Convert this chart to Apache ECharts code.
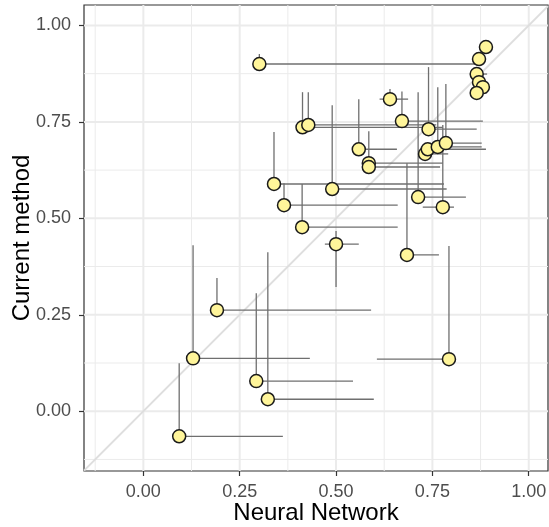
<!DOCTYPE html>
<html><head><meta charset="utf-8">
<script src="https://cdn.jsdelivr.net/npm/echarts@6/dist/echarts.min.js"></script>
<style>html,body{margin:0;padding:0;background:#fff}#c{width:549px;height:527px}</style>
</head><body><div id="c"></div>
<script>
// Neural Network (x) vs Current method (y) with one/two-sided ranges
const nn    = [0.889,0.301,0.871,0.865,0.871,0.881,0.865,0.640,0.671,0.740,0.413,0.428,0.559,0.585,0.585,0.731,0.738,0.764,0.785,0.684,0.777,0.713,0.339,0.490,0.365,0.412,0.500,0.191,0.129,0.793,0.293,0.323,0.093];
const cur   = [0.944,0.900,0.913,0.874,0.853,0.840,0.825,0.809,0.752,0.731,0.736,0.742,0.679,0.643,0.633,0.667,0.679,0.685,0.695,0.405,0.529,0.555,0.589,0.576,0.534,0.477,0.433,0.262,0.137,0.135,0.078,0.031,-0.065];
const nnLo  = [0.875,0.301,0.871,0.865,0.871,0.881,0.865,0.613,0.671,0.740,0.413,0.428,0.559,0.585,0.585,0.731,0.738,0.764,0.785,0.684,0.725,0.713,0.339,0.490,0.365,0.412,0.471,0.191,0.129,0.606,0.293,0.323,0.093];
const nnHi  = [0.905,0.861,0.871,0.892,0.871,0.881,0.892,0.687,0.881,0.865,0.777,0.760,0.658,0.777,0.770,0.791,0.889,0.878,0.878,0.767,0.806,0.837,0.780,0.787,0.660,0.660,0.559,0.591,0.432,0.793,0.544,0.598,0.362];
const curLo = [0.944,0.900,0.913,0.874,0.853,0.840,0.825,0.809,0.752,0.731,0.736,0.742,0.679,0.643,0.633,0.667,0.679,0.685,0.695,0.405,0.529,0.555,0.589,0.576,0.534,0.477,0.322,0.262,0.137,0.135,0.078,0.031,-0.065];
const curHi = [0.944,0.926,0.913,0.874,0.853,0.840,0.825,0.835,0.829,0.892,0.827,0.827,0.809,0.726,0.633,0.667,0.679,0.840,0.848,0.643,0.742,0.827,0.724,0.793,0.591,0.589,0.467,0.345,0.430,0.428,0.306,0.412,0.124];

const majorTicks = [0, 0.25, 0.5, 0.75, 1.0];
const minorTicks = [-0.125, 0.125, 0.375, 0.625, 0.875];
const xRange = [-0.154, 1.05];
const yRange = [-0.155, 1.053];

const chart = echarts.init(document.getElementById('c'), null, {renderer: 'canvas'});

// [value, direction (0 = vertical line / x, 1 = horizontal line / y), width]
const gridData = [];
minorTicks.forEach(v => { gridData.push([v, 0, 1]); gridData.push([v, 1, 1]); });
majorTicks.forEach(v => { gridData.push([v, 0, 2]); gridData.push([v, 1, 2]); });

const segData = nn.map((x, i) => [x, cur[i], nnLo[i], nnHi[i], curLo[i], curHi[i]]);
const ptData = nn.map((x, i) => [x, cur[i]]);

const labelStyle = {customValues: majorTicks, formatter: v => v.toFixed(2), color: '#4d4d4d', fontSize: 18, fontFamily: 'Liberation Sans'};
const axisCommon = {
  type: 'value',
  axisLine: {show: false, onZero: false},
  splitLine: {show: false},
  minorSplitLine: {show: false},
  axisTick: {show: true, customValues: majorTicks, length: 5, lineStyle: {color: '#333333', width: 1.2}},
  nameLocation: 'middle',
  nameMoveOverlap: false,
  nameTextStyle: {color: '#000', fontSize: 24, fontFamily: 'Liberation Sans'}
};

chart.setOption({
  animation: false,
  grid: {left: 84, right: 1, top: 5, bottom: 56, show: true, borderColor: '#333333', borderWidth: 1.2,
         backgroundColor: '#fff', containLabel: false, outerBoundsMode: 'none'},
  xAxis: Object.assign({}, axisCommon, {min: xRange[0], max: xRange[1], name: 'Neural Network', nameGap: 30,
    axisLabel: Object.assign({}, labelStyle, {margin: 12})}),
  yAxis: Object.assign({}, axisCommon, {min: yRange[0], max: yRange[1], name: 'Current method', nameGap: 50,
    axisLabel: Object.assign({}, labelStyle, {margin: 13})}),
  series: [
    {
      type: 'custom', silent: true, z: 1, data: gridData,
      renderItem: (params, api) => {
        const cs = params.coordSys;
        const v = api.value(0), dir = api.value(1), w = api.value(2);
        let shape;
        if (dir === 0) { const p = api.coord([v, 0.5]); shape = {x1: p[0], y1: cs.y, x2: p[0], y2: cs.y + cs.height}; }
        else { const p = api.coord([0.5, v]); shape = {x1: cs.x, y1: p[1], x2: cs.x + cs.width, y2: p[1]}; }
        return {type: 'line', shape: shape, style: {stroke: '#ebebeb', lineWidth: w}};
      }
    },
    {
      type: 'line', silent: true, z: 2, symbol: 'none',
      data: [[xRange[0], xRange[0]], [xRange[1], xRange[1]]],
      lineStyle: {color: '#dedede', width: 2}
    },
    {
      type: 'custom', silent: true, z: 3, data: segData,
      renderItem: (params, api) => {
        const x = api.value(0), y = api.value(1);
        const h1 = api.coord([api.value(2), y]), h2 = api.coord([api.value(3), y]);
        const v1 = api.coord([x, api.value(4)]), v2 = api.coord([x, api.value(5)]);
        const st = {stroke: '#6f6f6f', lineWidth: 1.3};
        return {type: 'group', children: [
          {type: 'line', shape: {x1: h1[0], y1: h1[1], x2: h2[0], y2: h2[1]}, style: st},
          {type: 'line', shape: {x1: v1[0], y1: v1[1], x2: v2[0], y2: v2[1]}, style: st}
        ]};
      }
    },
    {
      type: 'scatter', z: 4, data: ptData, symbol: 'circle', symbolSize: 13,
      itemStyle: {color: '#fff59a', borderColor: '#1a1a1a', borderWidth: 1.5, opacity: 1}
    }
  ]
});
</script></body></html>
